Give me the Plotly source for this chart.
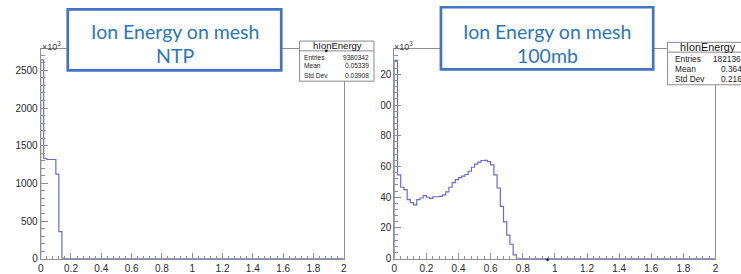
import plotly.graph_objects as go

# ---------------- data ----------------
BIN_WIDTH = 0.02
X_MAX = 2.0
N_BINS = 100

# NTP panel, counts in units of 10^3 (bins of 0.02 starting at 0)
ntp_counts = [2640, 1330, 1317, 1317, 1317, 1123, 359, 4]
# 100 mb panel, counts in units of 10^3
mb100_counts = [129, 54.5, 46.5, 45, 38.5, 36.5, 35, 38.5, 39.5, 41,
                40, 39.3, 40.3, 40.3, 40.5, 41.5, 43.5, 46.5, 49.5, 51.5,
                52.7, 53.7, 54.8, 56.9, 59.5, 61.5, 62.8, 63.9, 64, 63.2,
                61, 54.5, 46, 34, 24, 15.3, 9.4, 2.5, 0.3]

titles = [["Ion Energy on mesh", "NTP"], ["Ion Energy on mesh", "100mb"]]
stat_name = "hIonEnergy"
stat_labels = ["Entries", "Mean", "Std Dev"]
stat_ntp = ["9380342", "0.05339", "0.03908"]
stat_100mb = ["182136", "0.364", "0.216"]

ntp_yticks = [0, 500, 1000, 1500, 2000, 2500]
mb_yticks = [0, 20, 40, 60, 80, 100, 120]
x_ticks = [0, 0.2, 0.4, 0.6, 0.8, 1, 1.2, 1.4, 1.6, 1.8, 2]

W, H = 741, 274


def X(px):
    return px / W


def Y(py):
    return 1 - py / H


def step_xy(counts):
    full = list(counts) + [0] * (N_BINS - len(counts))
    xs = [round(i * BIN_WIDTH, 4) for i in range(N_BINS)] + [X_MAX]
    ys = full + [0]
    return [0] + xs, [0] + ys


fig = go.Figure()
hist_color = "#6a6ad2"
for counts, ax in [(ntp_counts, ""), (mb100_counts, "2")]:
    xs, ys = step_xy(counts)
    fig.add_trace(go.Scatter(x=xs, y=ys, mode="lines", line_shape="hv",
                             line=dict(color=hist_color, width=1.2),
                             xaxis="x" + ax, yaxis="y" + ax, showlegend=False,
                             hoverinfo="skip"))

frame_col = "#8f8f8f"
tick_font = dict(family="Liberation Sans, Arial, sans-serif", size=10, color="#2a2a2a")


def xaxis_cfg(domain):
    return dict(domain=domain, range=[0, 2], showgrid=False, zeroline=False,
                showline=True, mirror=True, linecolor=frame_col, linewidth=1,
                ticks="inside", ticklen=6, tickcolor=frame_col,
                tickvals=x_ticks, ticktext=[("%g" % v) for v in x_ticks],
                minor=dict(ticks="inside", ticklen=3, dtick=0.04, tick0=0,
                           tickcolor=frame_col, showgrid=False),
                tickfont=tick_font, fixedrange=True)


def yaxis_cfg(domain, rng, ticks, minor_dt, anchor):
    return dict(domain=domain, range=rng, showgrid=False, zeroline=False,
                showline=True, mirror=True, linecolor=frame_col, linewidth=1,
                ticks="inside", ticklen=7, tickcolor=frame_col,
                tickvals=ticks, ticktext=[str(v) for v in ticks],
                minor=dict(ticks="inside", ticklen=4, dtick=minor_dt, tick0=0,
                           tickcolor=frame_col, showgrid=False),
                tickfont=tick_font, anchor=anchor, fixedrange=True)


ydom = [Y(264.5), Y(50)]
fig.update_layout(
    width=W, height=H, autosize=False,
    margin=dict(l=0, r=0, t=0, b=0, pad=0),
    paper_bgcolor="white", plot_bgcolor="white",
    xaxis=xaxis_cfg([X(38), X(343.5)]),
    yaxis=yaxis_cfg(ydom, [0, 2785], ntp_yticks, 100, "x"),
    xaxis2=dict(xaxis_cfg([X(394.5), X(718.3)]), anchor="y2"),
    yaxis2=yaxis_cfg(ydom, [0, 136.5], mb_yticks, 4, "x2"),
)

shapes = []
annotations = []

# crop strip: the right picture begins here, cutting its tick labels
shapes.append(dict(type="rect", xref="paper", yref="paper", x0=X(375.2), x1=X(380.6),
                   y0=0, y1=1, fillcolor="white", line=dict(width=0), layer="above"))

# x10^3 labels
for px in (37.5, 392.5):
    annotations.append(dict(xref="paper", yref="paper", x=X(px), y=Y(47.5),
                            xanchor="left", yanchor="middle", showarrow=False,
                            text="×10<sup>3</sup>",
                            font=dict(family="Liberation Sans, Arial, sans-serif",
                                      size=9, color="#444")))

# stats boxes
stat_font_fam = "Liberation Sans, Arial, sans-serif"
boxes = [
    dict(x0=299, x1=374, y0=42, y1=83, sep=52, tx=337.5, ty=47, tsize=9.5,
         rows_y=[58.3, 67.3, 76.7], lx=301.5, vx=[371, 371, 371], vanchor="right",
         rsize=6.6, vals=stat_ntp),
    dict(x0=670, x1=765, y0=43.3, y1=86.7, sep=53.3, tx=710.5, ty=48.3, tsize=10.8,
         rows_y=[60, 70.7, 81], lx=675, vx=[713.3, 722, 722], vanchor="left",
         rsize=8.3, vals=stat_100mb),
]
for b in boxes:
    shapes.append(dict(type="rect", xref="paper", yref="paper", x0=X(b["x0"]), x1=X(b["x1"]),
                       y0=Y(b["y1"]), y1=Y(b["y0"]), fillcolor="white",
                       line=dict(color="#8a8a8a", width=1), layer="above"))
    shapes.append(dict(type="line", xref="paper", yref="paper", x0=X(b["x0"]), x1=X(b["x1"]),
                       y0=Y(b["sep"]), y1=Y(b["sep"]), line=dict(color="#8a8a8a", width=1),
                       layer="above"))
    annotations.append(dict(xref="paper", yref="paper", x=X(b["tx"]), y=Y(b["ty"]),
                            xanchor="center", yanchor="middle", showarrow=False,
                            text=stat_name,
                            font=dict(family=stat_font_fam, size=b["tsize"], color="#111")))
    for lab, val, ry, vx in zip(stat_labels, b["vals"], b["rows_y"], b["vx"]):
        annotations.append(dict(xref="paper", yref="paper", x=X(b["lx"]), y=Y(ry),
                                xanchor="left", yanchor="middle", showarrow=False, text=lab,
                                font=dict(family=stat_font_fam, size=b["rsize"], color="#222")))
        annotations.append(dict(xref="paper", yref="paper", x=X(vx), y=Y(ry),
                                xanchor=b["vanchor"], yanchor="middle", showarrow=False, text=val,
                                font=dict(family=stat_font_fam, size=b["rsize"], color="#222")))

# small black markers
for (cx, cy) in [(326, 52), (549, 265.5)]:
    shapes.append(dict(type="circle", xref="paper", yref="paper",
                       x0=X(cx - 1.3), x1=X(cx + 1.3), y0=Y(cy + 1.3), y1=Y(cy - 1.3),
                       fillcolor="black", line=dict(width=0), layer="above"))

# blue title boxes
title_boxes = [dict(x0=65.3, x1=280.5, y0=9.6, y1=72, cx=173),
               dict(x0=441.5, x1=655.5, y0=7.4, y1=71, cx=548.7)]
for tb, lines in zip(title_boxes, titles):
    shapes.append(dict(type="rect", xref="paper", yref="paper", x0=X(tb["x0"]), x1=X(tb["x1"]),
                       y0=Y(tb["y1"]), y1=Y(tb["y0"]), fillcolor="white",
                       line=dict(color="#4472c4", width=2.7), layer="above"))
    for line_text, ly in zip(lines, (31.7, 57)):
        annotations.append(dict(xref="paper", yref="paper", x=X(tb["cx"]), y=Y(ly),
                                xanchor="center", yanchor="middle", showarrow=False,
                                text=line_text,
                                font=dict(family="Lato, Open Sans, sans-serif", size=19.5,
                                          color="#2e75b6")))

fig.update_layout(shapes=shapes, annotations=annotations)
fig.write_html("out.html",
               config={"displayModeBar": False, "staticPlot": True},
               post_script="document.body.style.margin='0';document.body.style.overflow='hidden';")
